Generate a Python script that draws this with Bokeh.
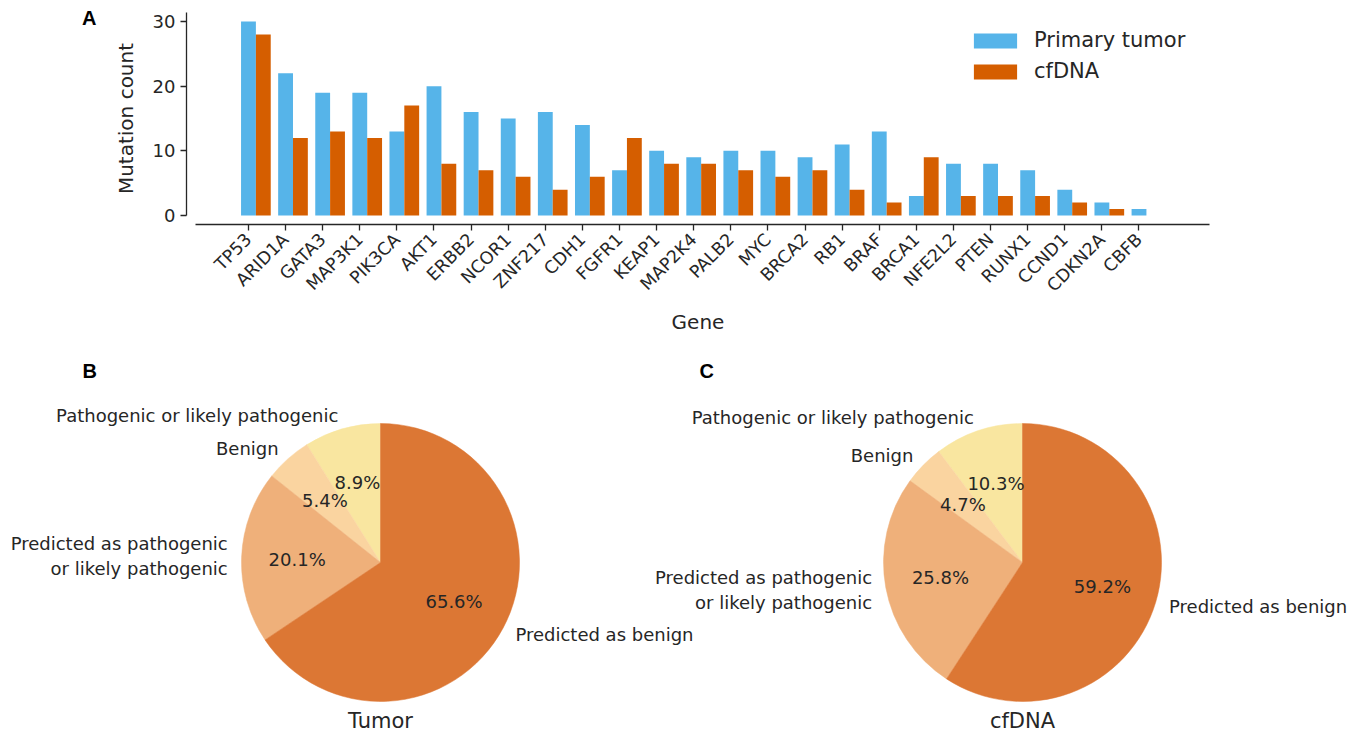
import math

import numpy as np
from bokeh.embed import file_html
from bokeh.models import (ColumnDataSource, FixedTicker, Label, Legend,
                          LegendItem, LinearAxis, Range1d)
from bokeh.plotting import figure
from bokeh.resources import INLINE

# ---------------------------------------------------------------- data
genes = ["TP53", "ARID1A", "GATA3", "MAP3K1", "PIK3CA", "AKT1", "ERBB2",
         "NCOR1", "ZNF217", "CDH1", "FGFR1", "KEAP1", "MAP2K4", "PALB2",
         "MYC", "BRCA2", "RB1", "BRAF", "BRCA1", "NFE2L2", "PTEN", "RUNX1",
         "CCND1", "CDKN2A", "CBFB"]
primary_tumor = [30, 22, 19, 19, 13, 20, 16, 15, 16, 14, 7, 10, 9, 10, 10,
                 9, 11, 13, 3, 8, 8, 7, 4, 2, 1]
cfdna = [28, 12, 13, 12, 17, 8, 7, 6, 4, 6, 12, 8, 8, 7, 6, 7, 4, 2, 9, 3,
         3, 3, 2, 1, 0]
y_ticks = [0, 10, 20, 30]

slice_labels = ["Pathogenic or likely pathogenic", "Benign",
                "Predicted as pathogenic\nor likely pathogenic",
                "Predicted as benign"]
tumor_pct = [8.9, 5.4, 20.1, 65.6]
cfdna_pct = [10.3, 4.7, 25.8, 59.2]

# ---------------------------------------------------------------- style
FONT = "DejaVu Sans"
LETTER_FONT = "Liberation Sans"
INK = "#262626"
BLUE = "#56B4E9"
VERMILLION = "#D55E00"
slice_colors = ["#F9E6A0", "#FAD4A0", "#EFB07A", "#DC7734"]

PAGE_W = 1360
FRAME_L, FRAME_R = 186, 1209
FRAME_T, FRAME_B = 12, 224
TOP_H = 340

# ---------------------------------------------------------------- panel A
x_lo, x_hi = -1.67, 25.9
y_lo, y_hi = -1.39, 31.4
p1 = figure(frame_width=FRAME_R - FRAME_L, frame_height=FRAME_B - FRAME_T,
            x_range=Range1d(x_lo, x_hi), y_range=Range1d(y_lo, y_hi),
            min_border_left=FRAME_L, min_border_right=PAGE_W - FRAME_R,
            min_border_top=FRAME_T, min_border_bottom=TOP_H - FRAME_B,
            output_backend="svg", toolbar_location=None)
p1.outline_line_color = None
p1.grid.visible = False

pos = np.arange(len(genes))
bars = ColumnDataSource(dict(x_pt=pos, x_cf=pos + 0.4,
                             pt=primary_tumor, cf=cfdna))
r_pt = p1.vbar(x="x_pt", top="pt", bottom=0, width=0.4, source=bars,
               fill_color=BLUE, line_color=None)
r_cf = p1.vbar(x="x_cf", top="cf", bottom=0, width=0.4, source=bars,
               fill_color=VERMILLION, line_color=None)

for ax in (p1.xaxis[0], p1.yaxis[0]):
    ax.axis_line_color = INK
    ax.axis_line_width = 1.3
    ax.major_tick_line_color = INK
    ax.major_tick_line_width = 1.3
    ax.major_tick_in = 0
    ax.major_tick_out = 6
    ax.minor_tick_line_color = None
    ax.major_label_text_font = FONT
    ax.major_label_text_color = INK
    ax.axis_label_text_font = FONT
    ax.axis_label_text_font_style = "normal"
    ax.axis_label_text_font_size = "20px"
    ax.axis_label_text_color = INK

xa = p1.xaxis[0]
xa.ticker = FixedTicker(ticks=list(range(len(genes))))
xa.major_label_overrides = {i: g for i, g in enumerate(genes)}
xa.major_label_orientation = math.pi / 4
xa.major_label_text_font_size = "17.5px"
xa.major_label_standoff = 6
xa.axis_label = "Gene"
xa.axis_label_standoff = 4
xa.bounds = (-1.43, 25.9)

ya = p1.yaxis[0]
ya.ticker = FixedTicker(ticks=y_ticks)
ya.major_label_text_font_size = "18px"
ya.major_label_standoff = 5
ya.axis_label = "Mutation count"
ya.axis_label_standoff = 12
ya.bounds = (0, 31.4)

legend = Legend(items=[LegendItem(label="Primary tumor", renderers=[r_pt]),
                       LegendItem(label="cfDNA", renderers=[r_cf])],
                location=(782, 141), orientation="vertical",
                glyph_width=54, glyph_height=19, label_standoff=12,
                label_text_font=FONT, label_text_font_size="21px",
                label_text_color=INK, spacing=7, padding=0, margin=0,
                border_line_color=None, background_fill_alpha=0)
p1.add_layout(legend)

# panel letter "A": the only label of a bare outer axis left of the y axis
px_per_y = (FRAME_B - FRAME_T) / (y_hi - y_lo)
letter_y = y_lo + (FRAME_B - 17) / px_per_y
letter_axis = LinearAxis(ticker=FixedTicker(ticks=[letter_y]),
                         major_label_overrides={letter_y: "A"},
                         axis_line_color=None, major_tick_line_color=None,
                         minor_tick_line_color=None, major_tick_out=0,
                         major_tick_in=0, major_label_standoff=14,
                         major_label_text_font=LETTER_FONT,
                         major_label_text_font_style="bold",
                         major_label_text_font_size="20px",
                         major_label_text_color="black")
p1.add_layout(letter_axis, "left")

# ---------------------------------------------------------------- panels B, C
H2 = 391
p2 = figure(frame_width=PAGE_W, frame_height=H2,
            x_range=Range1d(0, PAGE_W), y_range=Range1d(0, H2),
            x_axis_type=None, y_axis_type=None, min_border=0,
            output_backend="svg", toolbar_location=None)
p2.outline_line_color = None
p2.grid.visible = False


def page_y(y):
    """Vertical position measured from the top of the page."""
    return TOP_H + H2 - y


RADIUS = 139


def add_text(x, y, text, size, align="center", baseline="middle",
             font=FONT, style="normal", color=INK):
    p2.add_layout(Label(x=x, y=y, text=text, text_font=font,
                        text_font_size=size, text_font_style=style,
                        text_color=color, text_align=align,
                        text_baseline=baseline, text_line_height=1.2))


def draw_pie(cx, cy, pct, title, letter, letter_x):
    pct = np.asarray(pct, dtype=float)
    start = 90 + np.concatenate([[0], np.cumsum(pct)[:-1]]) * 3.6
    end = start + pct * 3.6
    src = ColumnDataSource(dict(start=np.radians(start), end=np.radians(end),
                                color=slice_colors))
    p2.wedge(x=cx, y=cy, radius=RADIUS, start_angle="start",
             end_angle="end", direction="anticlock", source=src,
             fill_color="color", line_color="color", line_width=0.5)
    mid = np.radians((start + end) / 2)
    for lab, v, a in zip(slice_labels, pct, mid):
        c, s = math.cos(a), math.sin(a)
        add_text(cx + 1.1 * RADIUS * c, cy + 1.1 * RADIUS * s, lab, "18px",
                 align="right" if c < 0 else "left")
        add_text(cx + 0.6 * RADIUS * c, cy + 0.6 * RADIUS * s,
                 f"{v:.1f}%", "18px")
    add_text(cx, page_y(720), title, "21px")
    add_text(letter_x, page_y(359), letter, "20px", align="left",
             baseline="top", font=LETTER_FONT, style="bold", color="black")


draw_pie(380, page_y(562), tumor_pct, "Tumor", "B", 82)
draw_pie(1022, page_y(562), cfdna_pct, "cfDNA", "C", 699)

# two independent roots so each keeps its own frame geometry
open("out.html", "w").write(file_html([p1, p2], INLINE))
